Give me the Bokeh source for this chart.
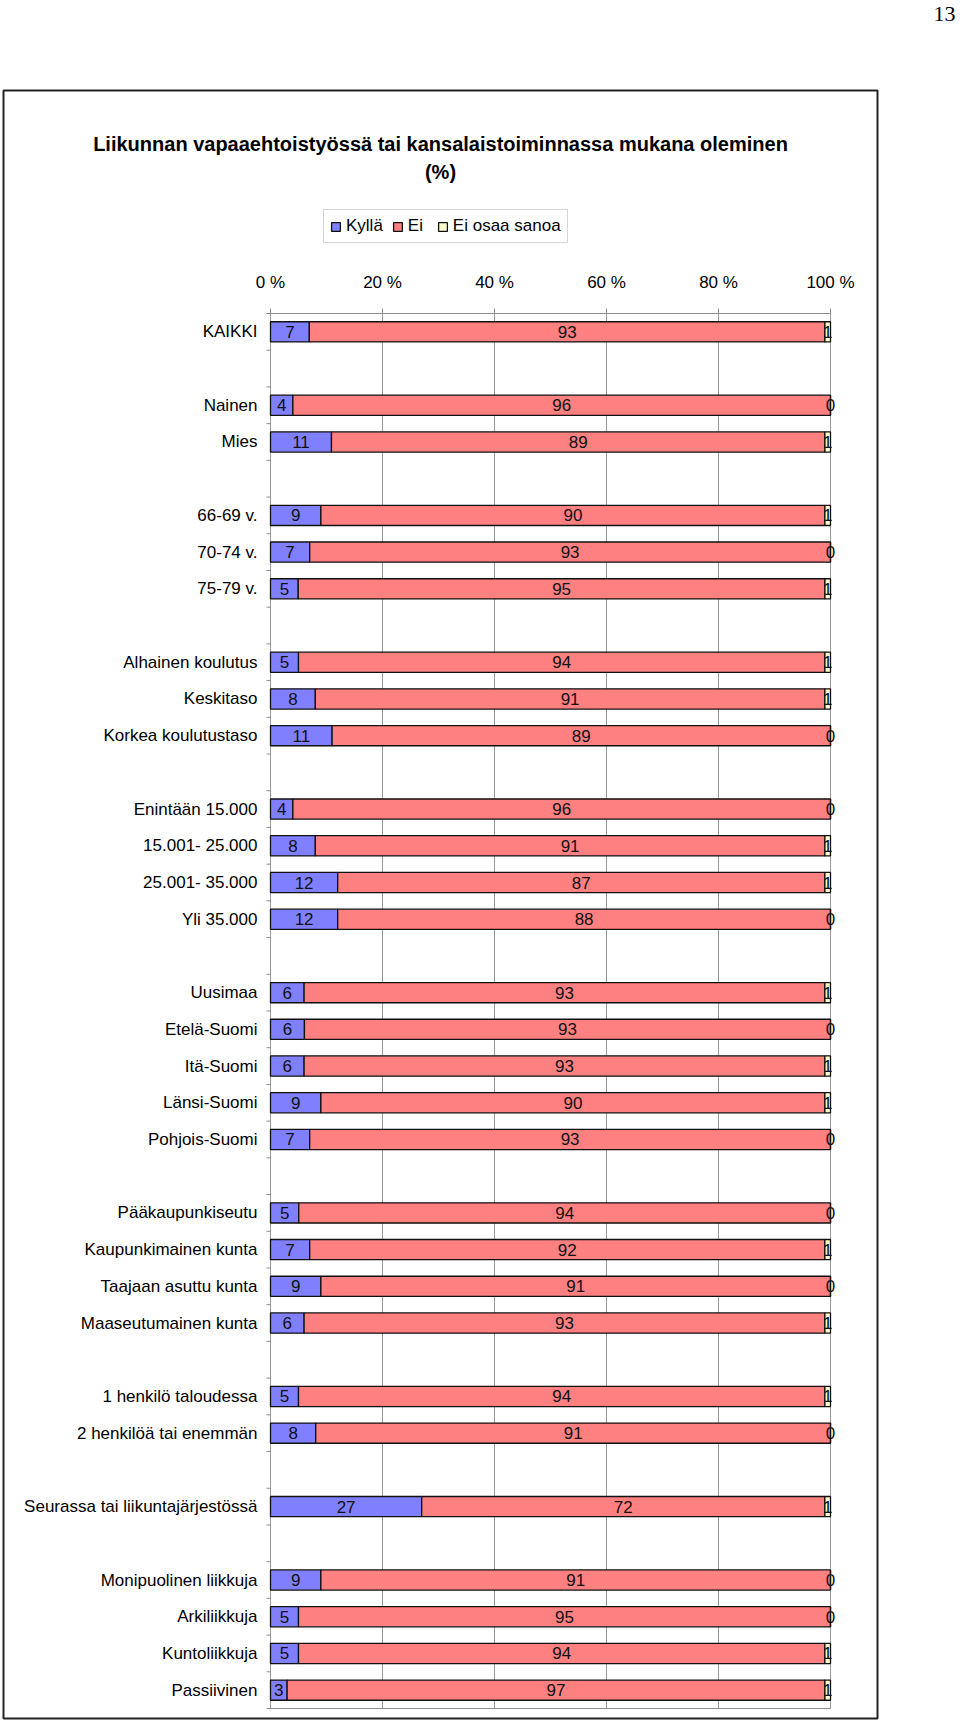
import numpy as np
import pandas as pd
from bokeh.plotting import figure
from bokeh.models import (ColumnDataSource, Range1d, FixedTicker,
                          Legend, LegendItem, Label, BoxAnnotation)
from bokeh.core.properties import value
from bokeh.embed import file_html
from bokeh.resources import INLINE

# ---------------- data ----------------
title_lines = ["Liikunnan vapaaehtoistyössä tai kansalaistoiminnassa mukana oleminen", "(%)"]
series_names = ["Kyllä", "Ei", "Ei osaa sanoa"]

groups = [
    ["KAIKKI"],
    ["Nainen", "Mies"],
    ["66-69 v.", "70-74 v.", "75-79 v."],
    ["Alhainen koulutus", "Keskitaso", "Korkea koulutustaso"],
    ["Enintään 15.000", "15.001- 25.000", "25.001- 35.000", "Yli 35.000"],
    ["Uusimaa", "Etelä-Suomi", "Itä-Suomi", "Länsi-Suomi", "Pohjois-Suomi"],
    ["Pääkaupunkiseutu", "Kaupunkimainen kunta", "Taajaan asuttu kunta", "Maaseutumainen kunta"],
    ["1 henkilö taloudessa", "2 henkilöä tai enemmän"],
    ["Seurassa tai liikuntajärjestössä"],
    ["Monipuolinen liikkuja", "Arkiliikkuja", "Kuntoliikkuja", "Passiivinen"],
]

kylla = [7, 4, 11, 9, 7, 5, 5, 8, 11, 4, 8, 12, 12, 6, 6, 6, 9, 7, 5, 7, 9, 6, 5, 8, 27, 9, 5, 5, 3]
ei    = [93, 96, 89, 90, 93, 95, 94, 91, 89, 96, 91, 87, 88, 93, 93, 93, 90, 93, 94, 92, 91, 93, 94, 91, 72, 91, 95, 94, 97]
eos   = [1, 0, 1, 1, 0, 1, 1, 1, 0, 0, 1, 1, 0, 1, 0, 1, 1, 0, 0, 1, 0, 1, 1, 0, 1, 0, 0, 1, 1]

x_ticks = [0, 20, 40, 60, 80, 100]
x_tick_labels = ["0 %", "20 %", "40 %", "60 %", "80 %", "100 %"]
page_number = "13"

colors = ["#8080FF", "#FF8080", "#FFFFCC"]

# ---------------- slots (top to bottom, one blank slot between groups) -------
rows = []          # (slot index from top, label)
slot = 0
for gi, g in enumerate(groups):
    if gi > 0:
        slot += 1
    for c in g:
        rows.append((slot, c))
        slot += 1
n_slots = slot
y_top = n_slots - 0.5      # upper edge of category area
y_bot = -0.5               # lower edge
ycent = [n_slots - 1 - s for s, _ in rows]
cats = [c for _, c in rows]

df = pd.DataFrame({"cat": cats, "y": ycent, "k": kylla, "e": ei, "n": eos})
tot = df["k"] + df["e"] + df["n"]
df["k0"] = 0.0
df["k1"] = df["k"] / tot * 100
df["e0"] = df["k1"]
df["e1"] = df["k1"] + df["e"] / tot * 100
df["n0"] = df["e1"]
df["n1"] = df["e1"] + df["n"] / tot * 100
df["kx"] = (df["k0"] + df["k1"]) / 2
df["ex"] = (df["e0"] + df["e1"]) / 2
df["nx"] = (df["n0"] + df["n1"]) / 2
df["kt"] = df["k"].astype(str)
df["et"] = df["e"].astype(str)
df["nt"] = df["n"].astype(str)
src = ColumnDataSource(df)

FONT = "Liberation Sans"

# ---------------- geometry (canvas pixels) ----------------
W, H = 958, 1722
X0_PX, X100_PX = 270, 830          # pixel of 0 % and 100 %
TOP_PX, BOT_PX = 313, 1708         # category area
ppu = (X100_PX - X0_PX) / 100.0
spx = (BOT_PX - TOP_PX) / n_slots

def xd(px):
    return (px - X0_PX) / ppu

def yd(py):
    return (BOT_PX - py) / spx + y_bot

p = figure(width=W, height=H, output_backend="svg", toolbar_location=None, title=None,
           x_range=Range1d(xd(0), xd(W)), y_range=Range1d(yd(H), yd(0)),
           x_axis_location="above", y_axis_location="left",
           min_border=0, min_border_left=0, min_border_right=0,
           min_border_top=0, min_border_bottom=0)
p.outline_line_color = None
p.background_fill_color = "white"
p.border_fill_color = "white"
p.xgrid.visible = False
p.ygrid.visible = False

# top value axis
p.xaxis.fixed_location = y_top
p.xaxis.ticker = FixedTicker(ticks=x_ticks)
p.xaxis.major_label_overrides = {t: l for t, l in zip(x_ticks, x_tick_labels)}
p.xaxis.bounds = (x_ticks[0], x_ticks[-1])
p.xaxis.axis_line_color = "#8c8c8c"
p.xaxis.major_tick_line_color = "#8c8c8c"
p.xaxis.major_tick_out = 5
p.xaxis.major_tick_in = 0
p.xaxis.minor_tick_line_color = None
p.xaxis.major_label_standoff = 17
p.xaxis.major_label_text_font = FONT
p.xaxis.major_label_text_font_size = "17px"
p.xaxis.major_label_text_color = "black"

# left category axis
p.yaxis.fixed_location = x_ticks[0]
p.yaxis.ticker = FixedTicker(ticks=ycent)
p.yaxis.major_label_overrides = {int(yv): c for yv, c in zip(ycent, cats)}
p.yaxis.axis_line_color = None
p.yaxis.major_tick_line_color = None
p.yaxis.minor_tick_line_color = None
p.yaxis.major_tick_out = 0
p.yaxis.major_tick_in = 0
p.yaxis.major_label_standoff = 13
p.yaxis.major_label_text_font = FONT
p.yaxis.major_label_text_font_size = "17px"
p.yaxis.major_label_text_color = "black"

# vertical grid lines
p.segment(x0=x_ticks, x1=x_ticks, y0=[y_bot] * len(x_ticks), y1=[y_top] * len(x_ticks),
          line_color="#999999", line_width=1)
# category boundary ticks
bounds_y = [k - 0.5 for k in range(n_slots + 1)]
p.segment(x0=[xd(X0_PX - 4)] * len(bounds_y), x1=[x_ticks[0]] * len(bounds_y),
          y0=bounds_y, y1=bounds_y, line_color="#8c8c8c", line_width=1)
# bottom border
p.segment(x0=[x_ticks[0]], x1=[x_ticks[-1]], y0=[y_bot], y1=[y_bot], line_color="#8c8c8c", line_width=1)

BH = 0.55
rk = p.hbar(y="y", left="k0", right="k1", height=BH, source=src,
            fill_color=colors[0], line_color="#111111", line_width=1.3)
re_ = p.hbar(y="y", left="e0", right="e1", height=BH, source=src,
             fill_color=colors[1], line_color="#111111", line_width=1.3)
rn = p.hbar(y="y", left="n0", right="n1", height=BH, source=src,
            fill_color=colors[2], line_color="#111111", line_width=1.3)

for xc, tc in (("kx", "kt"), ("ex", "et"), ("nx", "nt")):
    p.text(x=xc, y="y", text=tc, source=src, text_align="center", text_baseline="middle",
           text_font=value(FONT), text_font_size="17px", text_color="#111111")

legend = Legend(items=[LegendItem(label=series_names[0], renderers=[rk]),
                       LegendItem(label=series_names[1], renderers=[re_]),
                       LegendItem(label=series_names[2], renderers=[rn])],
                location=(323, H - 243), orientation="horizontal",
                glyph_width=11, glyph_height=11, label_height=17, label_standoff=5,
                spacing=9, padding=6, margin=0,
                label_text_font=FONT, label_text_font_size="17px", label_text_color="black",
                border_line_color="#b0b0b0", background_fill_color="white")
p.add_layout(legend)

# title lines
for txt, ty in zip(title_lines, (143, 171)):
    p.add_layout(Label(x=440, y=H - ty, x_units="screen", y_units="screen", text=txt,
                       text_align="center", text_baseline="middle", text_font=FONT,
                       text_font_size="20px", text_font_style="bold", text_color="black"))

# page number
p.add_layout(Label(x=944, y=H - 13, x_units="screen", y_units="screen", text=page_number,
                   text_align="center", text_baseline="middle", text_font="Liberation Serif",
                   text_font_size="22px", text_color="black"))

# outer chart box
p.add_layout(BoxAnnotation(left=3, right=877, top=H - 90, bottom=H - 1718,
                           left_units="screen", right_units="screen",
                           top_units="screen", bottom_units="screen",
                           fill_alpha=0, fill_color=None, line_color="#222222",
                           line_alpha=1.0, line_width=2))

open("out.html", "w").write(file_html(p, INLINE))
